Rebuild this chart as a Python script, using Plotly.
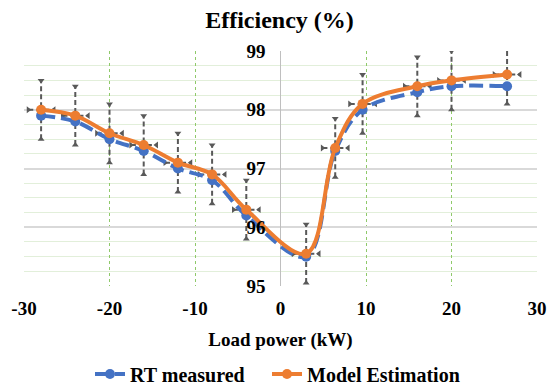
import plotly.graph_objects as go

# Load power (kW) at each operating point
load_kw = [-28, -24, -20, -16, -12, -8, -4, 3, 6.4, 9.6, 16, 20, 26.5]
# Efficiency (%) from the real-time measurement
rt_measured = [97.9, 97.8, 97.5, 97.3, 97.0, 96.8, 96.2, 95.5, 97.3, 98.0, 98.3, 98.4, 98.4]
# Efficiency (%) from the model
model_est = [98.0, 97.9, 97.6, 97.4, 97.1, 96.9, 96.3, 95.55, 97.35, 98.1, 98.4, 98.5, 98.6]

# Error-bar half widths for the model series
err_eff = 0.5
err_kw = 1.5

x_ticks = [-30, -20, -10, 0, 10, 20, 30]
y_ticks = [95, 96, 97, 98, 99]

BLUE = "#4472C4"
ORANGE = "#ED7D31"
ERR = "#595959"
SERIF = "Liberation Serif"
TXT = dict(family=SERIF, size=19, color="black")
LEG = dict(family=SERIF, size=20, color="black")

# Plot-area geometry in pixels (for placing the legend entries)
PLOT_L, PLOT_W, PLOT_H = 24, 513, 235

# Dashed error-bar segments (vertical and horizontal)
vx, vy, hx, hy = [], [], [], []
for x, y in zip(load_kw, model_est):
    vx += [x, x, None]
    vy += [y - err_eff, y + err_eff, None]
    hx += [x - err_kw, x + err_kw, None]
    hy += [y, y, None]

fig = go.Figure()

fig.add_trace(go.Scatter(x=vx, y=vy, mode="lines", showlegend=False, hoverinfo="skip",
                         line=dict(color=ERR, width=2, dash="5px,3px")))
fig.add_trace(go.Scatter(x=hx, y=hy, mode="lines", showlegend=False, hoverinfo="skip",
                         line=dict(color=ERR, width=2, dash="5px,3px")))
# Arrow-like caps at the ends of each error bar
fig.add_trace(go.Scatter(x=load_kw, y=[v + err_eff for v in model_est], mode="markers",
                         showlegend=False, hoverinfo="skip",
                         marker=dict(symbol="triangle-down", size=6, color=ERR)))
fig.add_trace(go.Scatter(x=load_kw, y=[v - err_eff for v in model_est], mode="markers",
                         showlegend=False, hoverinfo="skip",
                         marker=dict(symbol="triangle-up", size=6, color=ERR)))
fig.add_trace(go.Scatter(x=[v - err_kw for v in load_kw], y=model_est, mode="markers",
                         showlegend=False, hoverinfo="skip",
                         marker=dict(symbol="triangle-right", size=6, color=ERR)))
fig.add_trace(go.Scatter(x=[v + err_kw for v in load_kw], y=model_est, mode="markers",
                         showlegend=False, hoverinfo="skip",
                         marker=dict(symbol="triangle-left", size=6, color=ERR)))

fig.add_trace(go.Scatter(x=load_kw, y=rt_measured, name="<b>RT measured</b>", mode="lines+markers",
                         line=dict(color=BLUE, width=4, dash="14px,6px", shape="spline"),
                         marker=dict(color=BLUE, size=10), legend="legend"))
fig.add_trace(go.Scatter(x=load_kw, y=model_est, name="<b>Model Estimation</b>", mode="lines+markers",
                         line=dict(color=ORANGE, width=4, shape="spline"),
                         marker=dict(color=ORANGE, size=10), legend="legend2"))

legend_y = -(374 - 286) / PLOT_H

fig.update_layout(
    width=559, height=386,
    margin=dict(l=PLOT_L, r=22, t=51, b=100, autoexpand=False),
    paper_bgcolor="white", plot_bgcolor="white",
    font=TXT,
    title=dict(text="<b>Efficiency (%)</b>", x=0.5, xanchor="center",
               y=1 - 20 / 386, yanchor="middle",
               font=dict(family=SERIF, size=24, color="black")),
    xaxis=dict(range=[-30, 30], tickvals=x_ticks, ticktext=[f"<b>{t}</b>" for t in x_ticks],
               tickfont=TXT,
               showgrid=True, gridcolor="#8fc96a", griddash="dot", gridwidth=1,
               zeroline=True, zerolinecolor="#bfbfbf", zerolinewidth=1,
               showline=False, ticks="", ticklabelstandoff=9,
               title=dict(text="<b>Load power (kW)</b>", font=TXT, standoff=14)),
    yaxis=dict(range=[95, 99], tickvals=y_ticks, ticktext=[f"<b>{t}</b>" for t in y_ticks],
               tickfont=TXT,
               anchor="free", position=0.5, side="left",
               showgrid=True, gridcolor="#d9d9d9", gridwidth=1.5,
               minor=dict(dtick=0.25, showgrid=True, gridcolor="#e2efda", gridwidth=1),
               zeroline=False, showline=False, ticks="", ticklabelstandoff=15),
    legend=dict(orientation="h", x=(90 - PLOT_L) / PLOT_W, xanchor="left",
                y=legend_y, yanchor="middle", font=LEG, itemwidth=30),
    legend2=dict(orientation="h", x=(267 - PLOT_L) / PLOT_W, xanchor="left",
                 y=legend_y, yanchor="middle", font=LEG, itemwidth=30),
)

fig.write_html("out.html")
